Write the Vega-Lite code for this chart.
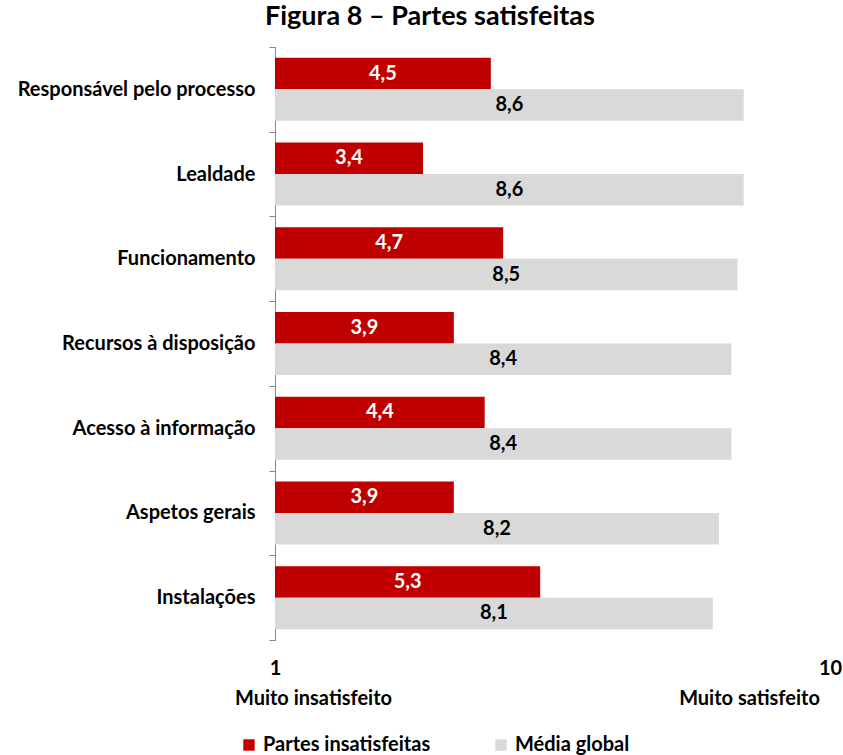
{
  "$schema": "https://vega.github.io/schema/vega-lite/v6.json",
  "autosize": {"type": "none"},
  "width": 555,
  "height": 593,
  "padding": {"left": 275, "top": 47, "right": 13, "bottom": 115},
  "background": "white",
  "title": {
    "text": "Figura 8 – Partes satisfeitas",
    "anchor": "start",
    "frame": "group",
    "dx": -10,
    "offset": 6,
    "font": "Lato",
    "fontSize": 27,
    "fontWeight": "bold",
    "color": "#000000"
  },
  "data": {
    "values": [
      {"cat": "Responsável pelo processo", "series": "Partes insatisfeitas", "v": 4.5},
      {"cat": "Responsável pelo processo", "series": "Média global", "v": 8.6},
      {"cat": "Lealdade", "series": "Partes insatisfeitas", "v": 3.4},
      {"cat": "Lealdade", "series": "Média global", "v": 8.6},
      {"cat": "Funcionamento", "series": "Partes insatisfeitas", "v": 4.7},
      {"cat": "Funcionamento", "series": "Média global", "v": 8.5},
      {"cat": "Recursos à disposição", "series": "Partes insatisfeitas", "v": 3.9},
      {"cat": "Recursos à disposição", "series": "Média global", "v": 8.4},
      {"cat": "Acesso à informação", "series": "Partes insatisfeitas", "v": 4.4},
      {"cat": "Acesso à informação", "series": "Média global", "v": 8.4},
      {"cat": "Aspetos gerais", "series": "Partes insatisfeitas", "v": 3.9},
      {"cat": "Aspetos gerais", "series": "Média global", "v": 8.2},
      {"cat": "Instalações", "series": "Partes insatisfeitas", "v": 5.3},
      {"cat": "Instalações", "series": "Média global", "v": 8.1}
    ]
  },
  "encoding": {
    "y": {
      "field": "cat",
      "type": "nominal",
      "sort": null,
      "scale": {"paddingInner": 0, "paddingOuter": 0},
      "axis": {
        "title": null,
        "tickBand": "extent",
        "tickSize": 6,
        "tickColor": "#868686",
        "domainColor": "#868686",
        "labelFont": "Lato",
        "labelFontSize": 20,
        "labelFontWeight": "bold",
        "labelColor": "#000000",
        "labelPadding": 14,
        "labelLimit": 300
      }
    },
    "yOffset": {
      "field": "series",
      "type": "nominal",
      "sort": ["Partes insatisfeitas", "Média global"],
      "scale": {"paddingInner": 0, "paddingOuter": 0.345}
    }
  },
  "layer": [
    {
      "mark": {"type": "bar"},
      "encoding": {
        "x": {
          "field": "v",
          "type": "quantitative",
          "scale": {"domain": [1, 10], "zero": false, "nice": false},
          "axis": {
            "orient": "bottom",
            "title": null,
            "values": [1, 10],
            "grid": false,
            "domain": false,
            "ticks": false,
            "labelFlush": false,
            "labelPadding": 18,
            "labelFont": "Lato",
            "labelFontSize": 20,
            "labelFontWeight": "bold",
            "labelColor": "#000000",
            "labelExpr": "datum.value == 1 ? '1' : '10'"
          }
        },
        "x2": {"datum": 1},
        "color": {
          "field": "series",
          "type": "nominal",
          "scale": {"domain": ["Partes insatisfeitas", "Média global"], "range": ["#C00000", "#D9D9D9"]},
          "legend": {
            "title": null,
            "orient": "none",
            "direction": "horizontal",
            "legendX": -36,
            "legendY": 688,
            "symbolType": "square",
            "symbolSize": 130,
            "symbolStrokeWidth": 0,
            "symbolOffset": 0,
            "labelOffset": 4,
            "columnPadding": 60,
            "labelFont": "Lato",
            "labelFontSize": 20,
            "labelFontWeight": "bold",
            "labelColor": "#000000",
            "labelLimit": 300
          }
        }
      }
    },
    {
      "transform": [
        {"calculate": "(1 + datum.v) / 2", "as": "mid"},
        {"calculate": "replace(format(datum.v, '.1f'), '.', ',')", "as": "lbl"}
      ],
      "mark": {"type": "text", "font": "Lato", "fontSize": 20, "fontWeight": "bold", "baseline": "middle", "align": "center"},
      "encoding": {
        "x": {
          "field": "mid",
          "type": "quantitative",
          "scale": {"domain": [1, 10], "zero": false, "nice": false},
          "axis": {
            "orient": "bottom",
            "title": null,
            "values": [1, 10],
            "grid": false,
            "domain": false,
            "ticks": false,
            "labelFlush": false,
            "offset": 30,
            "labelPadding": 18,
            "labelFont": "Lato",
            "labelFontSize": 20,
            "labelFontWeight": "bold",
            "labelColor": "#000000",
            "labelOffset": {"expr": "datum.value == 1 ? 38 : -81"},
            "labelExpr": "datum.value == 1 ? 'Muito insatisfeito' : 'Muito satisfeito'"
          }
        },
        "text": {"field": "lbl"},
        "color": {
          "condition": {"test": "datum.series == 'Partes insatisfeitas'", "value": "#FFFFFF"},
          "value": "#000000"
        }
      }
    }
  ],
  "resolve": {"axis": {"x": "independent"}},
  "config": {"view": {"stroke": null}}
}
